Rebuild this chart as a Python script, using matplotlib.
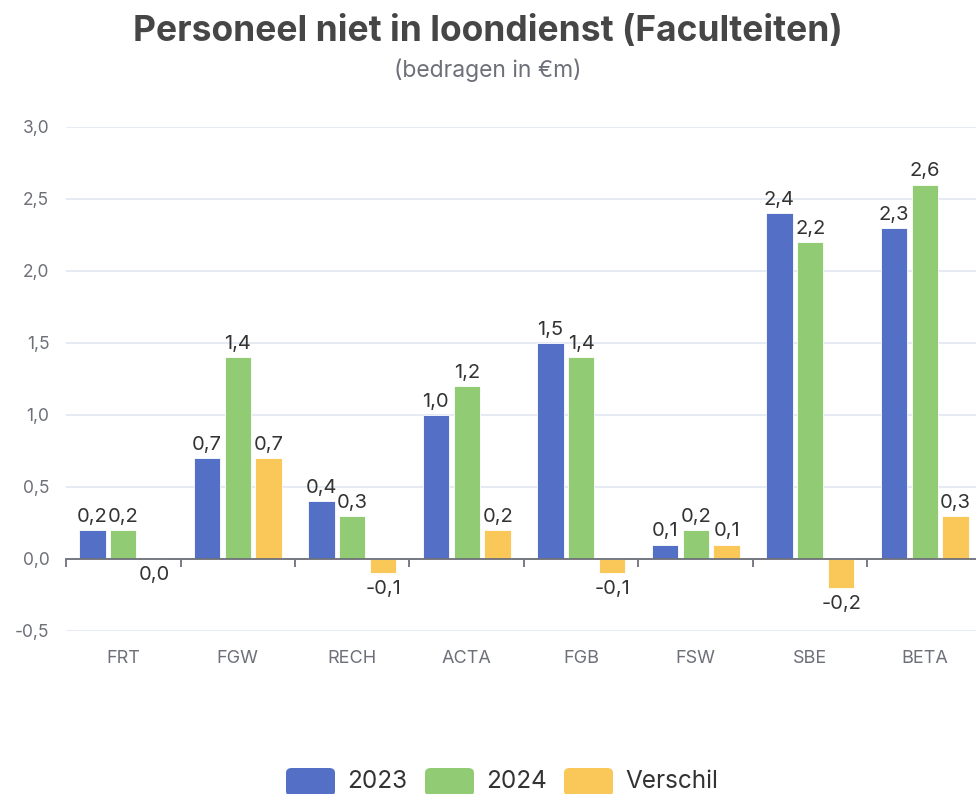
import matplotlib

matplotlib.use("Agg")
import matplotlib.pyplot as plt
from matplotlib.patches import FancyBboxPatch
from matplotlib.ticker import FixedLocator, FuncFormatter

plt.rcParams["font.family"] = ["Inter", "DejaVu Sans"]

CATEGORIES = ["FRT", "FGW", "RECH", "ACTA", "FGB", "FSW", "SBE", "BETA"]
V2023 = [0.2, 0.7, 0.4, 1.0, 1.5, 0.1, 2.4, 2.3]
V2024 = [0.2, 1.4, 0.3, 1.2, 1.4, 0.2, 2.2, 2.6]
VERSCHIL = [0.0, 0.7, -0.1, 0.2, -0.1, 0.1, -0.2, 0.3]
SERIES = ["2023", "2024", "Verschil"]
COLORS = ["#5470c6", "#91cc75", "#fac858"]
YTICKS = [-0.5, 0.0, 0.5, 1.0, 1.5, 2.0, 2.5, 3.0]

GRAY = "#6e7079"

fig = plt.figure(figsize=(9.76, 7.94), dpi=100)
ax = fig.add_axes((66 / 976, 1 - 631 / 794, 916 / 976, 504 / 794))

w = 0.23
step = 0.27
for i, (vals, col) in enumerate(zip([V2023, V2024, VERSCHIL], COLORS)):
    xs = [j + 0.5 + (i - 1) * step for j in range(len(CATEGORIES))]
    ax.bar(xs, vals, width=w, color=col, edgecolor="white", linewidth=0.6, zorder=3)
    for x, v in zip(xs, vals):
        txt = f"{v:.1f}".replace(".", ",")
        if v > 0:
            ax.annotate(txt, (x, v), xytext=(0, 3), textcoords="offset points",
                        ha="center", va="bottom", fontsize=14.5, color="#333333")
        else:
            ax.annotate(txt, (x, v), xytext=(0, -5), textcoords="offset points",
                        ha="center", va="top", fontsize=14.5, color="#333333")

ax.set_xlim(0, len(CATEGORIES))
ax.set_ylim(-0.5, 3.0)
ax.set_yticks(YTICKS)
ax.yaxis.set_major_formatter(FuncFormatter(lambda v, p: f"{v:.1f}".replace(".", ",")))
ax.tick_params(axis="y", length=0, pad=12, labelsize=12.5, labelcolor=GRAY)
ax.grid(axis="y", color="#e0e6f1", linewidth=1.2, zorder=0)

# axis line + boundary ticks sit at zero
ax.xaxis.set_major_locator(FixedLocator(range(len(CATEGORIES) + 1)))
ax.set_xticklabels([])
ax.tick_params(axis="x", which="major", length=6, width=1.3, color=GRAY)

for s in ["top", "right", "left"]:
    ax.spines[s].set_visible(False)
ax.spines["bottom"].set_position(("data", 0))
ax.spines["bottom"].set_color(GRAY)
ax.spines["bottom"].set_linewidth(1.3)
ax.spines["bottom"].set_zorder(4)

# category labels sit below the plot area
sec = ax.secondary_xaxis(0.0)
sec.set_xticks([j + 0.5 for j in range(len(CATEGORIES))])
sec.set_xticklabels(CATEGORIES)
sec.tick_params(axis="x", length=0, pad=14, labelsize=13, labelcolor=GRAY)
sec.spines["bottom"].set_visible(False)

fig.text(0.5, 1 - 31 / 794, "Personeel niet in loondienst (Faculteiten)",
         ha="center", va="center", fontsize=25.5, fontweight="bold", color="#464646")
fig.text(0.5, 1 - 70 / 794, "(bedragen in €m)", ha="center", va="center",
         fontsize=16.5, color=GRAY)

# legend along the bottom
lx = [286, 425, 564]
for x0, lab, col in zip(lx, SERIES, COLORS):
    patch = FancyBboxPatch((x0 / 976, 1 - 796 / 794), 49 / 976, 28 / 794,
                           boxstyle="round,pad=0,rounding_size=0.006",
                           transform=fig.transFigure, facecolor=col, edgecolor="none")
    fig.patches.append(patch)
    fig.text((x0 + 61) / 976, 1 - 781 / 794, lab, ha="left", va="center",
             fontsize=17.5, color="#333333")

fig.savefig("out.png", dpi=100)
